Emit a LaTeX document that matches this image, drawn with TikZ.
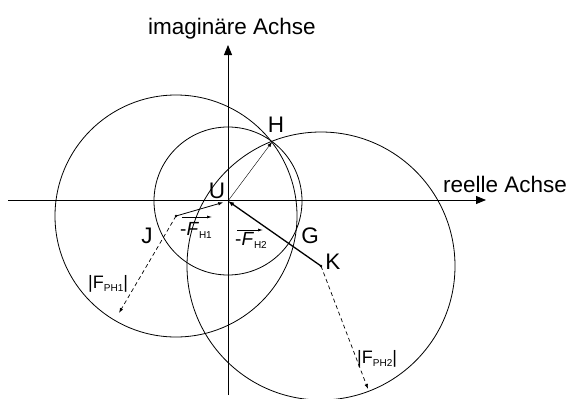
\documentclass[tikz,border=0pt]{standalone}
\usepackage{fontspec}
\setmainfont{Liberation Sans}
\usetikzlibrary{arrows.meta}
\begin{document}
\begin{tikzpicture}[x=1pt,y=-1pt,
  big/.style={font=\fontsize{22.5}{22.5}\selectfont, inner sep=0pt, anchor=base},
  lab/.style={inner sep=0pt, anchor=base west},
  circ/.style={draw, line width=0.8pt},
  axis/.style={line width=0.9pt, -{Triangle[length=10pt,width=8pt]}},
  vec/.style={line width=0.8pt, -{Latex[length=5pt,width=3.5pt]}},
  vecthick/.style={line width=1.3pt, -{Latex[length=6pt,width=4.5pt]}},
  vecthin/.style={line width=0.4pt, -{Latex[length=5pt,width=3.5pt]}},
  dvec/.style={line width=0.7pt, dash pattern=on 4pt off 3pt, -{Latex[length=5pt,width=3.5pt]}},
  ovec/.style={line width=0.7pt, -{Latex[length=5pt,width=3pt]}},
]
\useasboundingbox (0,0) rectangle (571,399);
% points
\coordinate (U) at (228,201);
\coordinate (J) at (176,216);
\coordinate (K) at (321,266);
\coordinate (H) at (272,142);
\coordinate (P1) at (119,313);
\coordinate (P2) at (368,389);
\coordinate (xa) at (8,200);
\coordinate (xb) at (486,200);
\coordinate (ya) at (228,395);
\coordinate (yb) at (228,45);
% axes
\draw[axis] (xa) -- (xb);
\draw[axis] (ya) -- (yb);
% circles
\draw[circ] (U) circle[radius=74pt];
\draw[circ] (J) circle[radius=121pt];
\draw[circ] (K) circle[radius=134pt];
% vectors
\draw[vec, shorten >=5pt] (J) -- (U);
\draw[vecthick] (K) -- (U);
\draw[vecthin] (U) -- (H);
\draw[dvec] (J) -- (P1);
\draw[dvec] (K) -- (P2);
\fill (J) circle[radius=1.3pt];
\fill (K) circle[radius=1.3pt];
% labels
\node[big] (lU) at (217,198) {U};
\node[big] (lJ) at (147,243) {J};
\node[big] (lH) at (276,132) {H};
\node[big] (lG) at (310,243) {G};
\node[big] (lK) at (333,269) {K};
\node[big] (ly) at (232,34) {imaginäre Achse};
\node[big] (lx) at (505,192) {reelle Achse};
\node[lab] (f1) at (180,235) {{\fontsize{19}{19}\selectfont -\textit{F}}{\fontsize{10}{10}\selectfont\raisebox{-3pt}{H1}}};
\draw[ovec] ([shift={(2,-18)}]f1.base west) -- ([shift={(32,-18)}]f1.base west);
\node[lab] (f2) at (235,245) {{\fontsize{19}{19}\selectfont -\textit{F}}{\fontsize{10}{10}\selectfont\raisebox{-3pt}{H2}}};
\draw[ovec] ([shift={(2,-15)}]f2.base west) -- ([shift={(28,-15)}]f2.base west);
\node[lab] (p1) at (88,288) {{\fontsize{18}{18}\selectfont |F}{\fontsize{10}{10}\selectfont\raisebox{-3pt}{PH1}}{\fontsize{18}{18}\selectfont |}};
\node[lab] (p2) at (357,363) {{\fontsize{18}{18}\selectfont |F}{\fontsize{10}{10}\selectfont\raisebox{-3pt}{PH2}}{\fontsize{18}{18}\selectfont |}};
\end{tikzpicture}
\end{document}
